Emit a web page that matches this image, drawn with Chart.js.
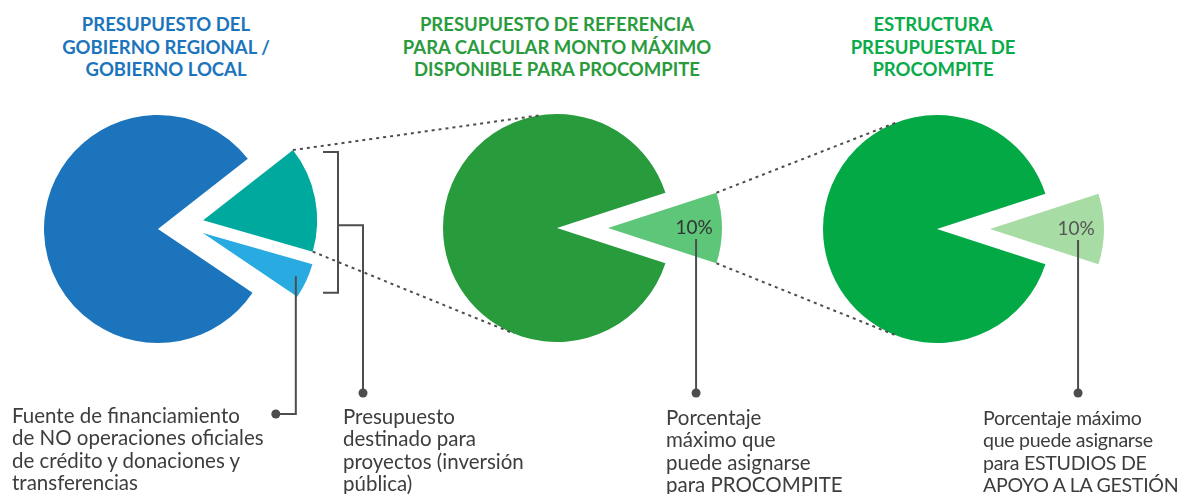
<!DOCTYPE html>
<html>
<head>
<meta charset="utf-8">
<script src="https://cdn.jsdelivr.net/npm/chart.js@4.4.1/dist/chart.umd.min.js"></script>
<style>
  body { margin: 0; width: 1181px; height: 494px; overflow: hidden; background: #fff; position: relative; font-family: Lato, sans-serif; }
  .pie { position: absolute; }
  .title { position: absolute; width: 400px; text-align: center; font-weight: bold; font-size: 18.5px; line-height: 22.5px; }
  .note { position: absolute; font-size: 20.5px; line-height: 22.3px; color: #3d3d3d; white-space: nowrap; }
  #links { position: absolute; left: 0; top: 0; pointer-events: none; }
</style>
</head>
<body>

<div class="title" style="left:-34px; top:13px; color:#1c75bc;">PRESUPUESTO DEL<br>GOBIERNO REGIONAL /<br>GOBIERNO LOCAL</div>
<div class="title" style="left:357px; top:13px; color:#2a9b3d;">PRESUPUESTO DE REFERENCIA<br>PARA CALCULAR MONTO MÁXIMO<br>DISPONIBLE PARA PROCOMPITE</div>
<div class="title" style="left:733px; top:13px; color:#0aab4a;">ESTRUCTURA<br>PRESUPUESTAL DE<br>PROCOMPITE</div>

<canvas id="pie-gobierno" class="pie" width="340" height="300" style="left:-12px; top:79px;"></canvas>
<canvas id="pie-referencia" class="pie" width="340" height="300" style="left:387px; top:78px;"></canvas>
<canvas id="pie-estructura" class="pie" width="340" height="300" style="left:767px; top:79px;"></canvas>
<canvas id="links" width="1181" height="494"></canvas>

<div class="note" style="left:12px; top:404px;">Fuente de financiamiento<br>de NO operaciones oficiales<br>de crédito y donaciones y<br>transferencias</div>
<div class="note" style="left:343px; top:405px;">Presupuesto<br>destinado para<br>proyectos (inversión<br>pública)</div>
<div class="note" style="left:666px; top:406px;">Porcentaje<br>máximo que<br>puede asignarse<br>para PROCOMPITE</div>
<div class="note" style="left:983px; top:407px; font-size:19.6px; letter-spacing:-0.3px;">Porcentaje máximo<br>que puede asignarse<br>para ESTUDIOS DE<br>APOYO A LA GESTIÓN</div>

<script>
// datos de cada torta
const gobiernoLabels = ['Proyectos (inversión pública)', 'NO operaciones oficiales de crédito', 'Resto del presupuesto'];
const gobiernoValues = [15, 5, 80];

const referenciaLabels = ['PROCOMPITE', 'Resto'];
const referenciaValues = [10, 90];

const estructuraLabels = ['Estudios de apoyo a la gestión', 'Resto'];
const estructuraValues = [10, 90];

const sliceText = ['10%', '10%'];

// torta con porciones separadas (se desplaza cada porción sin agrandarla)
class ExplodedPie extends Chart.PieController {
  draw() {
    const ctx = this.chart.ctx;
    const ds = this.getDataset();
    this._cachedMeta.data.forEach((arc, i) => {
      const p = pullVector(arc, ds, i);
      ctx.save();
      ctx.translate(p.x, p.y);
      arc.draw(ctx);
      ctx.restore();
    });
  }
}
ExplodedPie.id = 'explodedPie';
ExplodedPie.defaults = Chart.PieController.defaults;
Chart.register(ExplodedPie);

function pullVector(arc, ds, i) {
  const d = (ds.pullOut && ds.pullOut[i]) || 0;
  const dir = ds.pullDir && ds.pullDir[i] != null
    ? ds.pullDir[i] * Math.PI / 180
    : (arc.startAngle + arc.endAngle) / 2;
  return { x: Math.cos(dir) * d, y: Math.sin(dir) * d };
}

// texto "10%" dentro de la porción
const pctLabel = {
  id: 'pctLabel',
  afterDatasetsDraw(chart, args, opts) {
    if (!opts.text) return;
    const arc = chart.getDatasetMeta(0).data[0];
    const p = pullVector(arc, chart.data.datasets[0], 0);
    const mid = (arc.startAngle + arc.endAngle) / 2;
    const r = arc.outerRadius * 0.755;
    const ctx = chart.ctx;
    ctx.save();
    ctx.font = '19px Lato, sans-serif';
    ctx.fillStyle = opts.color;
    ctx.textAlign = 'center';
    ctx.textBaseline = 'middle';
    ctx.fillText(opts.text, arc.x + p.x + Math.cos(mid) * r, arc.y + p.y + Math.sin(mid) * r);
    ctx.restore();
  }
};

function makePie(id, labels, values, colors, rotation, pullOut, pullDir, text, textColor) {
  return new Chart(document.getElementById(id), {
    type: 'explodedPie',
    data: {
      labels: labels,
      datasets: [{
        data: values,
        backgroundColor: colors,
        borderWidth: 0,
        pullOut: pullOut,
        pullDir: pullDir
      }]
    },
    options: {
      responsive: false,
      animation: false,
      events: [],
      radius: 114,
      rotation: rotation,
      layout: { padding: 0 },
      plugins: {
        legend: { display: false },
        tooltip: { enabled: false },
        pctLabel: { text: text, color: textColor }
      }
    },
    plugins: [pctLabel]
  });
}

const pieGob = makePie('pie-gobierno', gobiernoLabels, gobiernoValues,
  ['#00a99d', '#29abe2', '#1c75bc'], 52, [46, 45, 0], [null, 5, null], null, null);
const pieRef = makePie('pie-referencia', referenciaLabels, referenciaValues,
  ['#5ec678', '#289b3c'], 72, [51, 0], [null, null], sliceText[0], '#333333');
const pieEst = makePie('pie-estructura', estructuraLabels, estructuraValues,
  ['#a7dca5', '#03a945'], 72, [53, 0], [null, null], sliceText[1], '#555555');

// conectores y líneas punteadas
function pageOf(chart) {
  return { x: chart.canvas.offsetLeft, y: chart.canvas.offsetTop };
}
function corner(chart, i, which, rFactor) {
  const arc = chart.getDatasetMeta(0).data[i];
  const p = pullVector(arc, chart.data.datasets[0], i);
  const o = pageOf(chart);
  const a = which === 'start' ? arc.startAngle : which === 'end' ? arc.endAngle : (arc.startAngle + arc.endAngle) / 2;
  const r = arc.outerRadius * (rFactor || 1);
  return { x: o.x + arc.x + p.x + Math.cos(a) * r, y: o.y + arc.y + p.y + Math.sin(a) * r };
}
function tangent(from, chart, upper) {
  const arc = chart.getDatasetMeta(0).data[0];
  const o = pageOf(chart);
  const cx = o.x + arc.x, cy = o.y + arc.y, R = arc.outerRadius;
  const dx = cx - from.x, dy = cy - from.y;
  const d = Math.hypot(dx, dy);
  const base = Math.atan2(dy, dx);
  const alpha = Math.asin(R / d);
  const len = Math.sqrt(d * d - R * R);
  const ang = upper ? base - alpha : base + alpha;
  return { x: from.x + Math.cos(ang) * len, y: from.y + Math.sin(ang) * len };
}

const lc = document.getElementById('links').getContext('2d');
lc.strokeStyle = '#4d4d4d';
lc.fillStyle = '#4d4d4d';

function dotted(a, b) {
  lc.save();
  lc.lineWidth = 2;
  lc.setLineDash([3, 4]);
  lc.beginPath();
  lc.moveTo(a.x, a.y);
  lc.lineTo(b.x, b.y);
  lc.stroke();
  lc.restore();
}
function path(points) {
  lc.save();
  lc.lineWidth = 2;
  lc.beginPath();
  points.forEach((p, k) => k ? lc.lineTo(p[0], p[1]) : lc.moveTo(p[0], p[1]));
  lc.stroke();
  lc.restore();
}
function dot(x, y) {
  lc.beginPath();
  lc.arc(x, y, 4.5, 0, Math.PI * 2);
  lc.fill();
}

// torta 1 -> torta 2
const tealTop = corner(pieGob, 0, 'start');
const tealBottom = corner(pieGob, 0, 'end');
dotted(tealTop, tangent(tealTop, pieRef, true));
dotted(tealBottom, tangent(tealBottom, pieRef, false));

// torta 2 -> torta 3
const procTop = corner(pieRef, 0, 'start');
const procBottom = corner(pieRef, 0, 'end');
dotted(procTop, tangent(procTop, pieEst, true));
dotted(procBottom, tangent(procBottom, pieEst, false));

// llave de proyectos
const lbBottom = corner(pieGob, 1, 'end');
const bTop = tealTop.y + 2, bBottom = lbBottom.y - 4, bX = 338;
const bMid = (bTop + bBottom) / 2 + 3;
path([[bX - 15, bTop], [bX, bTop], [bX, bBottom], [bX - 15, bBottom]]);
path([[bX, bMid], [363, bMid], [363, 393]]);
dot(363, 393);

// porción celeste
const lbMid = corner(pieGob, 1, 'mid', 0.9);
path([[lbMid.x, lbMid.y], [lbMid.x, 414], [lbMid.x - 20, 414]]);
dot(lbMid.x - 20, 414);

// porciones 10%
[pieRef, pieEst].forEach(ch => {
  const m = corner(ch, 0, 'mid', 0.755);
  path([[m.x + 2, m.y + 11], [m.x + 2, 393]]);
  dot(m.x + 2, 393);
});
</script>
</body>
</html>
